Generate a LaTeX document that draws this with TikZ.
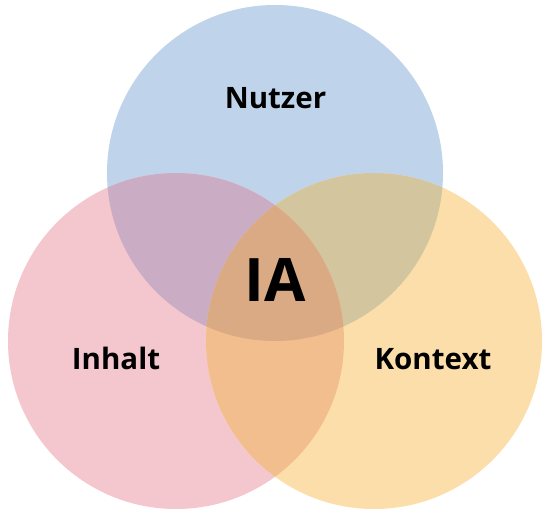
\documentclass[tikz,border=0pt]{standalone}
\usepackage{fontspec}
\setmainfont{Open Sans}
\definecolor{nutzerblue}{HTML}{BFD4EB}
\definecolor{inhaltpink}{HTML}{F4C7CF}
\definecolor{kontextgold}{HTML}{FCDEAA}
\definecolor{nipurple}{HTML}{CAADC4}
\definecolor{nkolive}{HTML}{D3C69F}
\definecolor{ikorange}{HTML}{F3BE8E}
\definecolor{iatan}{HTML}{D9AA84}

\begin{document}
\begin{tikzpicture}[x=1pt,y=1pt]
\tikzset{label/.style={font=\fontsize{29.5}{36}\selectfont\bfseries,anchor=base,inner sep=0pt}}
\useasboundingbox (0,0) rectangle (554,527);
\fill[white] (0,0) rectangle (554,527);

\coordinate (nutzer) at (275,354);
\coordinate (inhalt) at (176,186);
\coordinate (kontext) at (374,186);

\fill[nutzerblue] (nutzer) circle (168);
\fill[inhaltpink] (inhalt) circle (168);
\fill[kontextgold] (kontext) circle (168);

\begin{scope}
\clip (nutzer) circle (168);
\fill[nipurple] (inhalt) circle (168);
\fill[nkolive] (kontext) circle (168);
\end{scope}
\begin{scope}
\clip (inhalt) circle (168);
\fill[ikorange] (kontext) circle (168);
\end{scope}
\begin{scope}
\clip (nutzer) circle (168);
\clip (inhalt) circle (168);
\fill[iatan] (kontext) circle (168);
\end{scope}

\node[label] (nutzerlabel) at (275.5,418) {Nutzer};
\node[label] (inhaltlabel) at (116,157) {Inhalt};
\node[label] (kontextlabel) at (433,157) {Kontext};
\node[label,font=\fontsize{60}{72}\selectfont\bfseries] (ialabel) at (275,225.3) {IA};
\end{tikzpicture}
\end{document}
